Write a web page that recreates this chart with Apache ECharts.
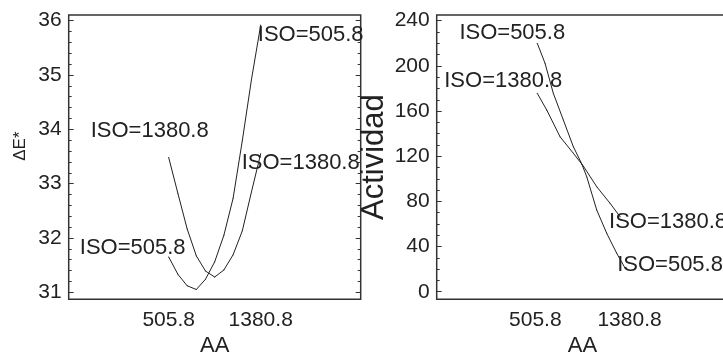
<!DOCTYPE html>
<html>
<head>
<meta charset="utf-8">
<script src="https://cdn.jsdelivr.net/npm/echarts@6/dist/echarts.min.js"></script>
<style>
html,body{margin:0;padding:0;background:#fff;}
#chart{width:723px;height:352px;}
</style>
</head>
<body>
<div id="chart"></div>
<script>
// ---- Data ----
const xTickLabels = [505.8, 1380.8];
const leftYTicks = [31, 32, 33, 34, 35, 36];
const rightYTicks = [0, 40, 80, 120, 160, 200, 240];

// Left panel (ΔE*)
const leftX = [505.8, 593.3, 680.8, 768.3, 855.8, 943.3, 1030.8, 1118.3, 1205.8, 1293.3, 1380.8];
const leftIso505 = [31.65, 31.33, 31.12, 31.05, 31.24, 31.56, 32.05, 32.73, 33.79, 34.92, 35.92];
const leftIso1380 = [33.48, 32.82, 32.17, 31.67, 31.39, 31.28, 31.41, 31.69, 32.13, 32.85, 33.55];

// Right panel (Actividad)
const rightX505 = [524, 596, 673, 766, 859, 937, 983, 1076, 1169, 1262, 1339];
const rightIso505 = [220.0, 202.3, 175.7, 152.1, 128.4, 113.2, 101.9, 72.4, 51.7, 34.0, 21.0];
const rightX1380 = [524, 612, 735, 859, 952, 1076, 1200, 1293];
const rightIso1380 = [175.7, 160.9, 137.3, 122.6, 111.2, 93.0, 78.3, 66.4];

const label505 = 'ISO=505.8';
const label1380 = 'ISO=1380.8';

// ---- Styling / layout ----
const FONT = "'Liberation Sans', Arial, sans-serif";
const TXT = '#222';
const LEFT_Y = [30.87, 36.105];
const RIGHT_Y = [-6.7, 245.05];
const LEFT_X = [-445.3, 2331.9];
const RIGHT_X = [-410, 2296];
const BOX_L = { left: 68.7, top: 15, width: 292, height: 284.3, outerBoundsMode: 'none', containLabel: false };
const BOX_R = { left: 436.7, top: 15, width: 291.4, height: 284.3, outerBoundsMode: 'none', containLabel: false };
const NO_LINE = { show: false, onZero: false };

function minorTicks(min, max, step, majors) {
  const out = [];
  const start = Math.ceil(min / step - 1e-9);
  const end = Math.floor(max / step + 1e-9);
  for (let k = start; k <= end; k++) {
    const v = +(k * step).toFixed(6);
    if (!majors.some(m => Math.abs(m - v) < 1e-6)) out.push(v);
  }
  return out;
}

function buildData(xs, ys, text, startOffset, endOffset) {
  return xs.map((x, i) => {
    const item = { value: [x, ys[i]] };
    if (i === 0 || i === xs.length - 1) {
      item.label = {
        show: true, formatter: text, position: 'inside',
        offset: i === 0 ? startOffset : endOffset,
        color: TXT, fontSize: 22, fontFamily: FONT
      };
    }
    return item;
  });
}

function tickAxis(gridIndex, range, pos, values, len) {
  return {
    type: 'value', gridIndex, min: range[0], max: range[1], position: pos,
    splitLine: { show: false }, axisLine: NO_LINE,
    axisTick: { show: true, inside: true, length: len, customValues: values, lineStyle: { color: '#333' } },
    axisLabel: { show: false }
  };
}

function mainYAxis(gridIndex, range, majors, name, nameCfg) {
  return {
    type: 'value', gridIndex, min: range[0], max: range[1], position: 'left',
    splitLine: { show: false }, axisLine: NO_LINE,
    name: name, nameLocation: 'middle', nameGap: nameCfg.gap, nameRotate: 90,
    nameTextStyle: { fontSize: nameCfg.size, color: TXT, fontFamily: FONT, padding: nameCfg.padding },
    axisTick: { show: true, inside: true, length: 5, customValues: majors, lineStyle: { color: '#333' } },
    axisLabel: { show: true, customValues: majors, margin: 7, fontSize: 21, color: TXT, fontFamily: FONT }
  };
}

function mainXAxis(gridIndex, range) {
  return {
    type: 'value', gridIndex, min: range[0], max: range[1], position: 'bottom',
    splitLine: { show: false }, axisLine: NO_LINE, axisTick: { show: false },
    axisLabel: { customValues: xTickLabels, margin: 10, fontSize: 21, color: TXT, fontFamily: FONT,
      formatter: v => String(v) },
    name: 'AA', nameLocation: 'middle', nameGap: 32,
    nameTextStyle: { fontSize: 22, color: TXT, fontFamily: FONT }
  };
}

function hiddenXAxis(gridIndex, range) {
  return { type: 'value', gridIndex, min: range[0], max: range[1], show: false, position: 'bottom', axisLine: NO_LINE };
}

const lineSeries = (xi, yi, data) => ({
  type: 'line', xAxisIndex: xi, yAxisIndex: yi, data,
  symbol: 'circle', symbolSize: 1, showSymbol: true,
  lineStyle: { color: '#222', width: 1 }, itemStyle: { color: '#222' },
  silent: true, animation: false, clip: false
});

const leftMinor = minorTicks(LEFT_Y[0], LEFT_Y[1], 0.2, leftYTicks);
const rightMinor = minorTicks(RIGHT_Y[0], RIGHT_Y[1], 10, rightYTicks);

const option = {
  backgroundColor: '#fff',
  animation: false,
  grid: [
    Object.assign({ show: true, borderColor: '#333', borderWidth: 1.5, backgroundColor: 'transparent' }, BOX_L),
    Object.assign({ show: true, borderColor: '#333', borderWidth: 1.5, backgroundColor: 'transparent' }, BOX_R),
    Object.assign({ show: false }, BOX_L),
    Object.assign({ show: false }, BOX_R)
  ],
  xAxis: [mainXAxis(0, LEFT_X), mainXAxis(1, RIGHT_X), hiddenXAxis(2, LEFT_X), hiddenXAxis(3, RIGHT_X)],
  yAxis: [
    mainYAxis(0, LEFT_Y, leftYTicks, 'ΔE*', { gap: 40, size: 17, padding: [0, 0, 0, 22] }),
    tickAxis(0, LEFT_Y, 'right', leftYTicks, 5),
    mainYAxis(1, RIGHT_Y, rightYTicks, 'Actividad', { gap: 47, size: 31, padding: 0 }),
    tickAxis(1, RIGHT_Y, 'right', rightYTicks, 5),
    tickAxis(2, LEFT_Y, 'left', leftMinor, 3),
    tickAxis(2, LEFT_Y, 'right', leftMinor, 3),
    tickAxis(3, RIGHT_Y, 'left', rightMinor, 3),
    tickAxis(3, RIGHT_Y, 'right', rightMinor, 3)
  ],
  series: [
    lineSeries(0, 0, buildData(leftX, leftIso505, label505, [-36, -9], [50, 10])),
    lineSeries(0, 0, buildData(leftX, leftIso1380, label1380, [-19, -27], [40, 9])),
    lineSeries(1, 2, buildData(rightX505, rightIso505, label505, [-25, -10], [45, -3])),
    lineSeries(1, 2, buildData(rightX1380, rightIso1380, label1380, [-34, -12], [48, 5]))
  ]
};

const chart = echarts.init(document.getElementById('chart'), null, { renderer: 'canvas' });
chart.setOption(option);
</script>
</body>
</html>
